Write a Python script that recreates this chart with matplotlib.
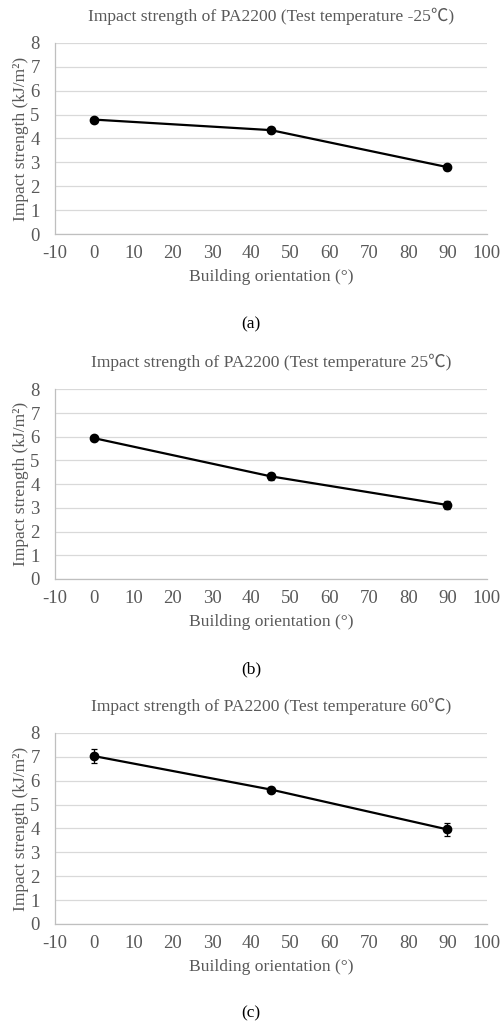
import numpy as np
import matplotlib
matplotlib.use("Agg")
import matplotlib.pyplot as plt

plt.rcParams['font.family'] = ['Liberation Serif', 'Noto Sans CJK SC', 'DejaVu Sans']

# building orientation (deg)
orient = [0, 45, 90]

temps = ["-25", "25", "60"]
tags = ["(a)", "(b)", "(c)"]

# impact strength (kJ/m2) and std dev per test temperature
strength_m25 = [4.79, 4.35, 2.80]
err_m25 = [0.05, 0.12, 0.10]
strength_25 = [5.94, 4.33, 3.12]
err_25 = [0.05, 0.14, 0.18]
strength_60 = [7.03, 5.63, 3.96]
err_60 = [0.30, 0.10, 0.28]

series = [(strength_m25, err_m25), (strength_25, err_25), (strength_60, err_60)]

xticks = list(range(-10, 101, 10))
yticks = list(range(0, 9))

TXT = '#595959'
GRID = '#d9d9d9'

fig = plt.figure(figsize=(5.02, 10.22), dpi=100)

# [bottom, top] of each plot area, in figure fraction
boxes = [(0.771, 0.958), (0.4335, 0.619), (0.0959, 0.2828)]
tag_y = [1 - 324 / 1022, 1 - 669 / 1022, 1 - 1013 / 1022]

for i, (vals, errs) in enumerate(series):
    b, t = boxes[i]
    ax = fig.add_axes([0.1096, b, 0.860, t - b])
    ax.errorbar(orient, vals, yerr=errs, color='black', lw=1.6, marker='o',
                ms=6, capsize=2.2, elinewidth=0.9, capthick=0.9, zorder=3)
    ax.set_xlim(-10, 100)
    ax.set_ylim(0, 8)
    ax.set_xticks(xticks)
    ax.set_yticks(yticks)
    ax.set_xticklabels([str(v) for v in xticks])
    ax.yaxis.grid(True, color=GRID, lw=0.9)
    ax.set_axisbelow(True)
    for s in ['top', 'right']:
        ax.spines[s].set_visible(False)
    for s in ['left', 'bottom']:
        ax.spines[s].set_color('#bfbfbf')
        ax.spines[s].set_linewidth(0.9)
    ax.tick_params(length=0, labelsize=13.5, colors=TXT)
    ax.tick_params(axis='x', pad=8)
    ax.tick_params(axis='y', pad=11)
    ax.set_xlabel("Building orientation (°)", fontsize=12.6, color=TXT, labelpad=5)
    ax.set_ylabel("Impact strength (kJ/m²)", fontsize=12.6, color=TXT, labelpad=1)
    ax.set_title(f"Impact strength of PA2200 (Test temperature {temps[i]}℃)",
                 fontsize=12.6, color=TXT, pad=16)
    fig.text(0.5, tag_y[i], tags[i], ha='center', va='center', fontsize=12.5, color='black')

fig.savefig("out.png", dpi=100, facecolor='white')
